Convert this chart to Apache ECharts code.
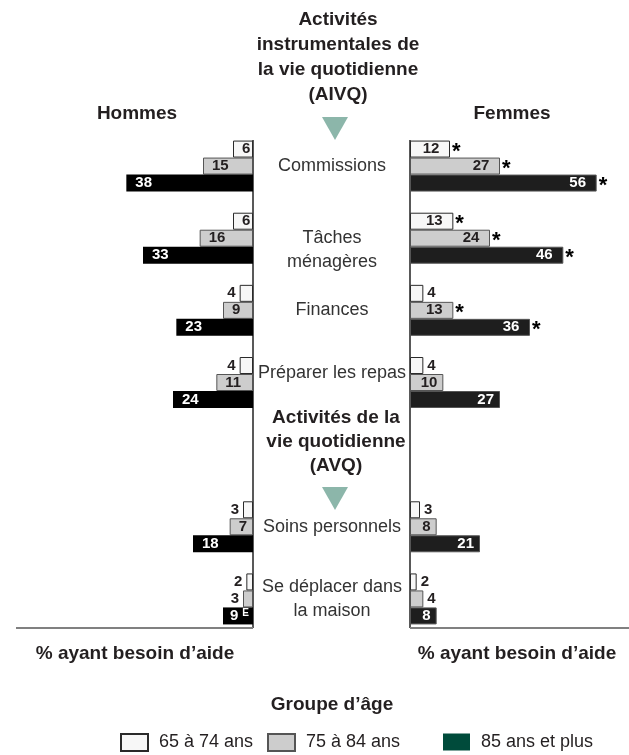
<!DOCTYPE html>
<html>
<head>
<meta charset="utf-8">
<script src="https://cdn.jsdelivr.net/npm/echarts@6/dist/echarts.min.js"></script>
<style>
  html, body { margin: 0; padding: 0; background: #fff; }
  #chart { width: 629px; height: 755px; }
</style>
</head>
<body>
<div id="chart"></div>
<script>
// catégories (index 4 vide : place pour le titre AVQ)
const categories = ['Commissions', 'Tâches\nménagères', 'Finances', 'Préparer les repas', '', 'Soins personnels', 'Se déplacer dans\nla maison']
const ageGroups = ['65 à 74 ans', '75 à 84 ans', '85 ans et plus']

// Hommes (%)
const hommes65 = [6, 6, 4, 4, '-', 3, 2]
const hommes75 = [15, 16, 9, 11, '-', 7, 3]
const hommes85 = [38, 33, 23, 24, '-', 18, 9]
// E : à utiliser avec prudence
const hommes85E = [false, false, false, false, false, false, true]

// Femmes (%)
const femmes65 = [12, 13, 4, 4, '-', 3, 2]
const femmes75 = [27, 24, 13, 10, '-', 8, 4]
const femmes85 = [56, 46, 36, 27, '-', 21, 8]
// * : différence significative
const femmes65Star = [true, true, false, false, false, false, false]
const femmes75Star = [true, true, true, false, false, false, false]
const femmes85Star = [true, true, true, false, false, false, false]

const FONT = '"Liberation Sans", Arial, sans-serif'
const NARROW = '"Liberation Sans Narrow", "Liberation Sans", Arial, sans-serif'
const TXT = '#231f20'

const valueLabel = {
  fontFamily: NARROW,
  fontSize: 15,
  fontWeight: 'bold'
}

// libellés côté hommes (barres vers la gauche)
const leftItems = (values, color, flagsE) => values.map((v, i) => {
  if (v === '-') return '-'
  if (v <= 4) {
    return { value: v, label: { ...valueLabel, show: true, position: 'left', distance: 4, color: TXT } }
  }
  if (flagsE && flagsE[i]) {
    return {
      value: v,
      label: {
        show: true, position: 'insideLeft', distance: 7,
        formatter: '{v|' + v + '}{e|E}',
        rich: {
          v: { ...valueLabel, color },
          e: { fontFamily: NARROW, fontSize: 10, fontWeight: 'bold', color, padding: [0, 0, 6, 4] }
        }
      }
    }
  }
  return { value: v, label: { ...valueLabel, show: true, position: 'insideLeft', distance: 9, color } }
})

// libellés côté femmes (barres vers la droite)
const rightItems = (values, color, stars) => values.map((v, i) => {
  if (v === '-') return '-'
  if (v <= 4) {
    return { value: v, label: { ...valueLabel, show: true, position: 'right', distance: 4, color: TXT } }
  }
  if (stars[i]) {
    return {
      value: v,
      label: {
        show: true, position: 'right', distance: -32,
        formatter: '{v|' + v + '}{s|*}',
        rich: {
          v: { ...valueLabel, color, width: 26, align: 'right' },
          s: { fontFamily: FONT, fontSize: 22, fontWeight: 'bold', color: '#000', padding: [6, 0, 0, 8] }
        }
      }
    }
  }
  return { value: v, label: { ...valueLabel, show: true, position: 'insideRight', distance: 6, color } }
})

const styles = [
  { color: '#f7f7f7', borderColor: '#2a2a2a', borderWidth: 1 },
  { color: '#cdcdcd', borderColor: '#555', borderWidth: 1 },
  { color: '#000', borderColor: '#000', borderWidth: 0 }
]
const stylesRight = [
  styles[0],
  styles[1],
  { color: '#1e1e1e', borderColor: '#555', borderWidth: 1 }
]

// style des libellés de catégorie (au centre)
const catLabel = {
  align: 'center',
  fontFamily: FONT,
  fontSize: 18,
  lineHeight: 24,
  color: '#333'
}

const barBase = {
  type: 'bar',
  barWidth: 17,
  barGap: '0%',
  emphasis: { disabled: true }
}

const chart = echarts.init(document.getElementById('chart'))

const textEl = (text, x, y, size, weight, lineHeight) => ({
  type: 'text',
  x, y,
  style: {
    text,
    fill: TXT,
    font: `${weight} ${size}px ${FONT}`,
    textAlign: 'center',
    textVerticalAlign: 'middle',
    lineHeight: lineHeight || size
  }
})

const option = {
  animation: false,
  grid: [
    { left: 53, width: 200, top: 130, height: 505 },
    { left: 410, width: 200, top: 130, height: 505 }
  ],
  xAxis: [
    { type: 'value', gridIndex: 0, min: 0, max: 60, inverse: true, show: false },
    { type: 'value', gridIndex: 1, min: 0, max: 60, show: false }
  ],
  yAxis: [
    { type: 'category', gridIndex: 0, inverse: true, data: categories, show: false },
    {
      type: 'category',
      gridIndex: 1,
      inverse: true,
      z: 10,
      data: categories.map((c, i) => i === 3 ? { value: c, textStyle: { ...catLabel, lineHeight: 18 } } : c),
      axisLine: { show: false },
      axisTick: { show: false },
      axisLabel: {
        ...catLabel,
        margin: 78,
        // petits décalages verticaux comme dans l'original
        formatter: (v, i) => i === 1 ? '\n' + v : i === 3 ? v + '\n' : v
      }
    }
  ],
  legend: [
    { data: [ageGroups[0]], left: 115, top: 728 },
    { data: [ageGroups[1]], left: 262, top: 728 },
    { data: [{ name: ageGroups[2], itemStyle: { color: '#004b3b', borderWidth: 0 } }], left: 438, top: 728 }
  ].map(l => ({
    ...l,
    icon: 'rect',
    itemWidth: 27,
    itemHeight: 17,
    selectedMode: false,
    textStyle: { fontFamily: FONT, fontSize: 18, color: TXT, padding: [0, 0, 0, 6] }
  })),
  series: [
    { ...barBase, name: ageGroups[0], xAxisIndex: 0, yAxisIndex: 0, itemStyle: styles[0], data: leftItems(hommes65, TXT) },
    { ...barBase, name: ageGroups[1], xAxisIndex: 0, yAxisIndex: 0, itemStyle: styles[1], data: leftItems(hommes75, TXT) },
    { ...barBase, name: ageGroups[2], xAxisIndex: 0, yAxisIndex: 0, itemStyle: styles[2], data: leftItems(hommes85, '#fff', hommes85E) },
    { ...barBase, name: ageGroups[0], xAxisIndex: 1, yAxisIndex: 1, itemStyle: stylesRight[0], data: rightItems(femmes65, TXT, femmes65Star) },
    { ...barBase, name: ageGroups[1], xAxisIndex: 1, yAxisIndex: 1, itemStyle: stylesRight[1], data: rightItems(femmes75, TXT, femmes75Star) },
    { ...barBase, name: ageGroups[2], xAxisIndex: 1, yAxisIndex: 1, itemStyle: stylesRight[2], data: rightItems(femmes85, '#fff', femmes85Star) }
  ],
  graphic: [
    // axes verticaux et ligne de base
    { type: 'line', shape: { x1: 253, y1: 140, x2: 253, y2: 628 }, style: { stroke: '#222', lineWidth: 1.5 } },
    { type: 'line', shape: { x1: 410, y1: 140, x2: 410, y2: 628 }, style: { stroke: '#222', lineWidth: 1.5 } },
    { type: 'line', shape: { x1: 16, y1: 628, x2: 253, y2: 628 }, style: { stroke: '#808080', lineWidth: 2 } },
    { type: 'line', shape: { x1: 410, y1: 628, x2: 629, y2: 628 }, style: { stroke: '#808080', lineWidth: 2 } },
    // flèches
    { type: 'polygon', shape: { points: [[322, 117], [348, 117], [335, 140]] }, style: { fill: '#8cb6aa' } },
    { type: 'polygon', shape: { points: [[322, 487], [348, 487], [335, 510]] }, style: { fill: '#8cb6aa' } },
    textEl('Activités\ninstrumentales de\nla vie quotidienne\n(AIVQ)', 338, 57, 19, 'bold', 25),
    textEl('Activités de la\nvie quotidienne\n(AVQ)', 336, 442, 19, 'bold', 24),
    textEl('Hommes', 137, 114, 19, 'bold'),
    textEl('Femmes', 512, 114, 19, 'bold'),
    textEl('% ayant besoin d’aide', 135, 654, 19, 'bold'),
    textEl('% ayant besoin d’aide', 517, 654, 19, 'bold'),
    textEl('Groupe d’âge', 332, 705, 19, 'bold')
  ]
}

chart.setOption(option)
</script>
</body>
</html>
